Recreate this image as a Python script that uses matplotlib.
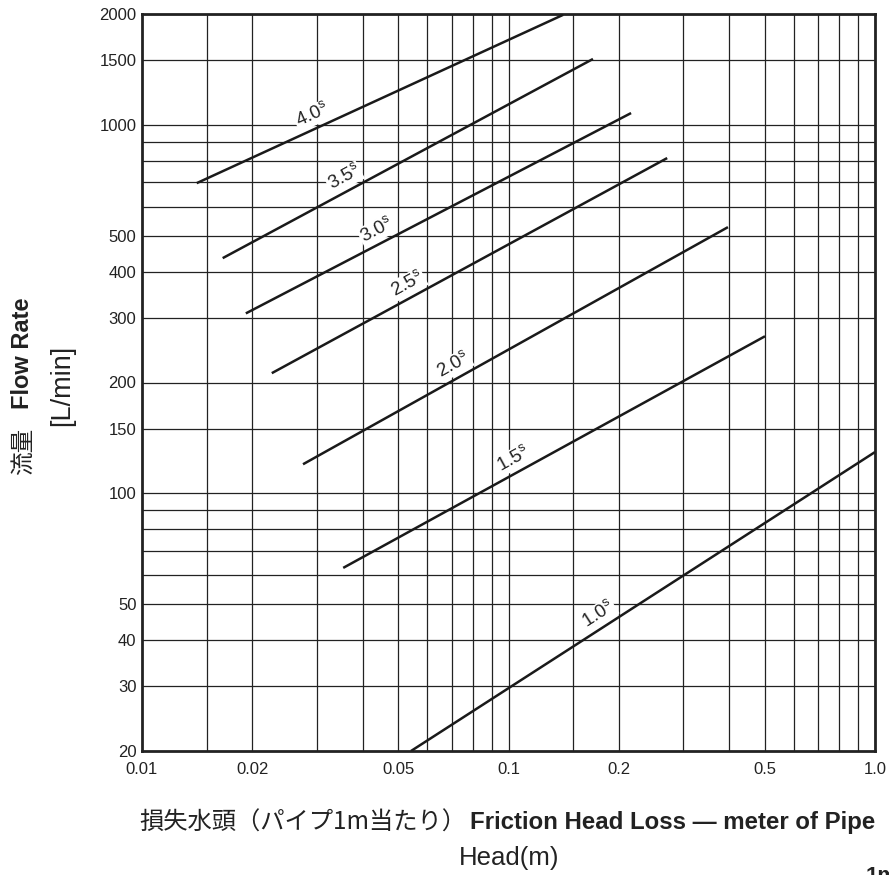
import numpy as np
import matplotlib
matplotlib.use("Agg")
import matplotlib.pyplot as plt
from matplotlib.ticker import FixedLocator, NullLocator

plt.rcParams['font.family'] = ['Liberation Sans', 'Noto Sans CJK JP', 'DejaVu Sans']
plt.rcParams['mathtext.fontset'] = 'custom'
plt.rcParams['mathtext.rm'] = 'Liberation Sans'

# Pipe sizes (inch) and the end points of each friction-loss line
sizes = ['1.0', '1.5', '2.0', '2.5', '3.0', '3.5', '4.0']
head_start = [0.0542, 0.0354, 0.0275, 0.0226, 0.0192, 0.0166, 0.0141]
head_end = [1.0, 0.501, 0.397, 0.271, 0.216, 0.170, 0.141]
flow_start = [20, 62.8, 120, 212, 308, 435, 695]
flow_end = [129.5, 267, 528, 813, 1077, 1510, 1990]
# where along each line its size label sits (0 = start, 1 = end)
label_frac = [0.42, 0.42, 0.37, 0.36, 0.355, 0.345, 0.33]

x_grid = [0.015, 0.02, 0.03, 0.04, 0.05, 0.06, 0.07, 0.08, 0.09, 0.1,
          0.15, 0.2, 0.3, 0.4, 0.5, 0.6, 0.7, 0.8, 0.9, 1.0]
x_ticks = [0.01, 0.02, 0.05, 0.1, 0.2, 0.5, 1.0]
x_ticklabels = ['0.01', '0.02', '0.05', '0.1', '0.2', '0.5', '1.0']
y_grid = [30, 40, 50, 60, 70, 80, 90, 100, 150, 200, 300, 400, 500,
          600, 700, 800, 900, 1000, 1500, 2000]
y_ticks = [20, 30, 40, 50, 100, 150, 200, 300, 400, 500, 1000, 1500, 2000]

fig = plt.figure(figsize=(8.89, 8.75), dpi=100)
ax = fig.add_axes([142 / 889, 1 - 751 / 875, 733 / 889, 737 / 875])
ax.set_xscale('log')
ax.set_yscale('log')
ax.set_xlim(0.01, 1.0)
ax.set_ylim(20, 2000)

for gx in x_grid:
    ax.axvline(gx, color='#222222', lw=0.9, zorder=1)
for gy in y_grid:
    ax.axhline(gy, color='#222222', lw=0.9, zorder=1)

ax.xaxis.set_major_locator(FixedLocator(x_ticks))
ax.xaxis.set_minor_locator(NullLocator())
ax.set_xticklabels(x_ticklabels)
ax.yaxis.set_major_locator(FixedLocator(y_ticks))
ax.yaxis.set_minor_locator(NullLocator())
ax.set_yticklabels([str(v) for v in y_ticks])
ax.tick_params(length=0, labelsize=12, colors='#222222', pad=4)
ax.tick_params(axis='x', pad=8)
for sp in ax.spines.values():
    sp.set_linewidth(2.0)
    sp.set_color('#222222')

fig.canvas.draw()
for i, s in enumerate(sizes):
    xs = [head_start[i], head_end[i]]
    ys = [flow_start[i], flow_end[i]]
    ax.plot(xs, ys, color='#1a1a1a', lw=1.8, solid_capstyle='butt', zorder=3)

    # label position and slope measured on screen
    p0 = ax.transData.transform((xs[0], ys[0]))
    p1 = ax.transData.transform((xs[1], ys[1]))
    ang = np.arctan2(p1[1] - p0[1], p1[0] - p0[0])
    t = label_frac[i]
    lx = 10 ** (np.log10(xs[0]) + t * (np.log10(xs[1]) - np.log10(xs[0])))
    ly = 10 ** (np.log10(ys[0]) + t * (np.log10(ys[1]) - np.log10(ys[0])))
    off = 9.5
    ax.annotate(s + r'$^{\rm s}$', xy=(lx, ly),
                xytext=(-off * np.sin(ang), off * np.cos(ang)),
                textcoords='offset points', rotation=np.degrees(ang),
                rotation_mode='anchor', ha='center', va='center',
                fontsize=13.5, color='#222222', zorder=4,
                bbox=dict(boxstyle='square,pad=0.05', fc='white', ec='none'))

# axis titles
fig.text(23 / 889, 1 - 451 / 875, '流量', rotation=90, ha='center', va='center',
         fontsize=17, family=['Noto Sans CJK JP'], color='#222222')
fig.text(23 / 889, 1 - 353 / 875, 'Flow Rate', rotation=90, ha='center', va='center',
         fontsize=17, fontweight='bold', color='#222222')
fig.text(62 / 889, 1 - 385 / 875, '[L/min]', rotation=90, ha='center', va='center',
         fontsize=19.5, color='#222222')

fig.text(466 / 889, 1 - 823 / 875, '損失水頭（パイプ1m当たり）', ha='right', va='center',
         fontsize=17.5, family=['Noto Sans CJK JP'], color='#222222')
fig.text(470 / 889, 1 - 823 / 875, 'Friction Head Loss — meter of Pipe', ha='left',
         va='center', fontsize=17.3, fontweight='bold', color='#222222')
fig.text(509 / 889, 1 - 858 / 875, 'Head(m)', ha='center', va='center',
         fontsize=18.5, color='#222222')
fig.text(866 / 889, 1 - 866 / 875, '1m', ha='left', va='top',
         fontsize=16, fontweight='bold', color='#222222')

fig.savefig('out.png', dpi=100)
